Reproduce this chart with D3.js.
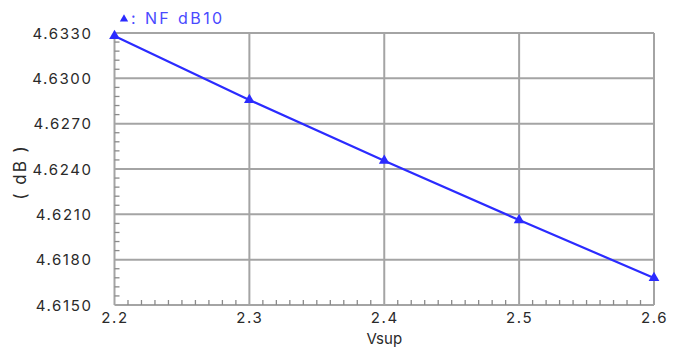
<!DOCTYPE html>
<html>
<head>
<meta charset="utf-8">
<script src="https://cdn.jsdelivr.net/npm/d3@7"></script>
<style>
  html, body { margin: 0; padding: 0; background: #fff; }
  text { font-family: Inter, "DejaVu Sans", sans-serif; }
</style>
</head>
<body>
<svg id="chart" width="679" height="351"></svg>
<script>
// Noise figure (dB) against supply voltage
const vsup = [2.2, 2.3, 2.4, 2.5, 2.6];
const nfDb = [4.6328, 4.62857, 4.62455, 4.62062, 4.61679];
const xTicks = [2.2, 2.3, 2.4, 2.5, 2.6];
const yTicks = [4.6150, 4.6180, 4.6210, 4.6240, 4.6270, 4.6300, 4.6330];
const seriesName = "NF dB10";

const W = 679, H = 351;
const m = { left: 114.5, right: 25, top: 33, bottom: 46 };
const svg = d3.select("#chart");

const x = d3.scaleLinear().domain([2.2, 2.6]).range([m.left, W - m.right]);
const y = d3.scaleLinear().domain([4.6150, 4.6330]).range([H - m.bottom, m.top]);

const grid = "#a4a4a4";
const blue = "#2b2bff";
const ink = "#2a2a2a";

// grid lines
svg.append("g").selectAll("line").data(xTicks).join("line")
  .attr("x1", d => x(d)).attr("x2", d => x(d))
  .attr("y1", y.range()[1]).attr("y2", y.range()[0])
  .attr("stroke", grid).attr("stroke-width", 2);
svg.append("g").selectAll("line").data(yTicks).join("line")
  .attr("x1", x.range()[0]).attr("x2", x.range()[1])
  .attr("y1", d => y(d)).attr("y2", d => y(d))
  .attr("stroke", grid).attr("stroke-width", 2);

// minor ticks (inside the frame)
const yMinor = d3.range(0, 31).map(i => 4.6150 + i * 0.0006).filter((d, i) => i % 5 !== 0);
const xMinor = d3.range(0, 41).map(i => 2.2 + i * 0.01).filter((d, i) => i % 10 !== 0);
svg.append("g").selectAll("line").data(yMinor).join("line")
  .attr("x1", x.range()[0]).attr("x2", x.range()[0] + 5)
  .attr("y1", d => y(d)).attr("y2", d => y(d))
  .attr("stroke", "#8a8a8a").attr("stroke-width", 1.3);
svg.append("g").selectAll("line").data(xMinor).join("line")
  .attr("x1", d => x(d)).attr("x2", d => x(d))
  .attr("y1", y.range()[0]).attr("y2", y.range()[0] - 5)
  .attr("stroke", "#8a8a8a").attr("stroke-width", 1.3);

// tick labels via axes
const yAxis = svg.append("g").attr("transform", `translate(${m.left},0)`)
  .call(d3.axisLeft(y).tickValues(yTicks).tickFormat(d3.format(".4f")).tickSize(0).tickPadding(22));
const xAxis = svg.append("g").attr("transform", `translate(0,${H - m.bottom})`)
  .call(d3.axisBottom(x).tickValues(xTicks).tickFormat(d3.format(".1f")).tickSize(0).tickPadding(7));
[yAxis, xAxis].forEach(a => {
  a.select(".domain").remove();
  a.selectAll("text").attr("font-size", 15).attr("fill", ink)
    .style("letter-spacing", "1.6px").attr("font-family", "Inter, sans-serif");
});
yAxis.selectAll("text").attr("dy", "0.35em");

// axis titles
svg.append("text").attr("x", x(2.4)).attr("y", 344).attr("text-anchor", "middle")
  .attr("font-size", 15).attr("fill", ink).text("Vsup");
svg.append("text").attr("transform", "translate(26,172) rotate(-90)")
  .attr("text-anchor", "middle").attr("font-size", 17).attr("fill", ink)
  .style("letter-spacing", "2px").text("( dB )");

// data line and markers
svg.append("path").datum(vsup.map((v, i) => [v, nfDb[i]]))
  .attr("fill", "none").attr("stroke", blue).attr("stroke-width", 2.2)
  .attr("d", d3.line().x(d => x(d[0])).y(d => y(d[1])));
const tri = d3.symbol().type(d3.symbolTriangle).size(50);
svg.append("g").selectAll("path").data(vsup).join("path")
  .attr("transform", (d, i) => `translate(${x(d)},${y(nfDb[i])})`)
  .attr("d", tri).attr("fill", blue);

// legend
svg.append("path").attr("transform", "translate(124,19)")
  .attr("d", d3.symbol().type(d3.symbolTriangle).size(30)).attr("fill", blue);
svg.append("text").attr("x", 131).attr("y", 24).attr("font-size", 16).attr("fill", "#4a4aff")
  .style("letter-spacing", "2.4px").text(": " + seriesName);
</script>
</body>
</html>
